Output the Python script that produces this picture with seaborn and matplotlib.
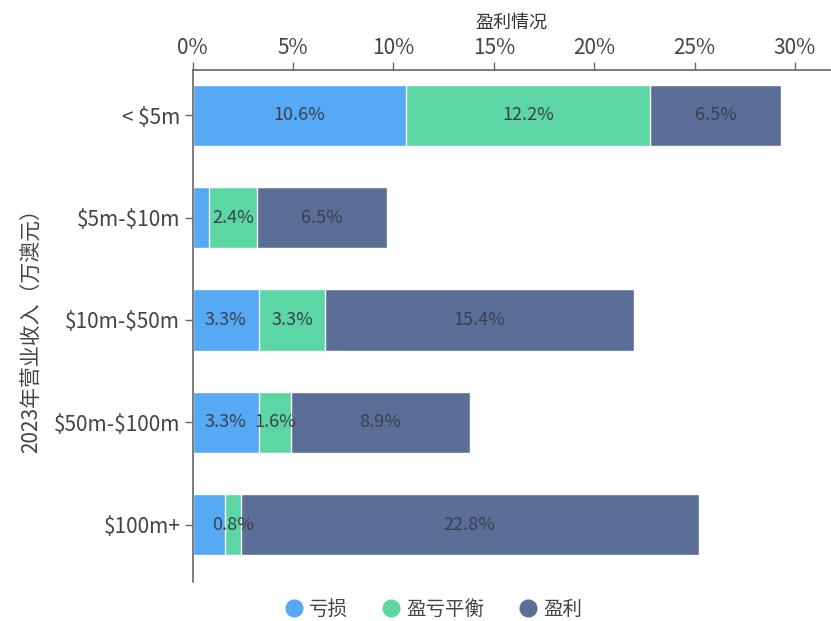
import matplotlib
matplotlib.use("Agg")
import matplotlib.pyplot as plt
import matplotlib.ticker as mticker
from matplotlib.lines import Line2D
import numpy as np
import pandas as pd
import seaborn as sns

# ── Data ──────────────────────────────────────────────────────────────────────
categories = ["< $5m", "$5m-$10m", "$10m-$50m", "$50m-$100m", "$100m+"]
series     = ["亏损", "盈亏平衡", "盈利"]
loss       = [10.6, 0.8, 3.3, 3.3, 1.6]
breakeven  = [12.2, 2.4, 3.3, 1.6, 0.8]
profit     = [6.5, 6.5, 15.4, 8.9, 22.8]
# segments whose label is not shown in the original (category, series)
hidden     = {("$5m-$10m", "亏损"), ("$100m+", "亏损")}
xticks     = [0, 5, 10, 15, 20, 25, 30]

COLORS = {"亏损": "#56A9F5", "盈亏平衡": "#5CD6A5", "盈利": "#5B6E98"}

# ── Style ─────────────────────────────────────────────────────────────────────
sns.set_theme(style="white")
plt.rcParams["font.family"] = ["Noto Sans CJK SC", "DejaVu Sans"]
plt.rcParams["text.parse_math"] = False

df = pd.DataFrame({"cat": categories, "亏损": loss,
                   "盈亏平衡": breakeven, "盈利": profit})
df["c1"] = df["亏损"]
df["c2"] = df["c1"] + df["盈亏平衡"]
df["c3"] = df["c2"] + df["盈利"]

fig, ax = plt.subplots(figsize=(8.31, 6.21), dpi=100)
fig.subplots_adjust(left=0.232, right=1.0, top=0.887, bottom=0.063)

# draw cumulative totals back to front so the segments stack
for col, name in [("c3", "盈利"), ("c2", "盈亏平衡"), ("c1", "亏损")]:
    sns.barplot(data=df, y="cat", x=col, orient="h", color=COLORS[name],
                width=0.6, saturation=1, ax=ax, order=categories)

# segment labels
for i, cat in enumerate(categories):
    start = 0
    for name in series:
        v = df.loc[i, name]
        if (cat, name) not in hidden:
            ax.text(start + v / 2, i, f"{v:.1f}%", ha="center", va="center",
                    fontsize=13, color="#3a3f4a")
        start += v

ax.set_xlim(0, 31.8)
ax.set_ylim(4.56, -0.44)
ax.xaxis.tick_top()
ax.xaxis.set_label_position("top")
ax.set_xticks(xticks)
ax.xaxis.set_major_formatter(mticker.FuncFormatter(lambda v, p: f"{v:.0f}%"))
ax.set_xlabel("盈利情况", fontsize=13, color="#333333", labelpad=7)
ax.set_ylabel("2023年营业收入（万澳元）", fontsize=15, color="#444444", labelpad=8)

for s in ["right", "bottom"]:
    ax.spines[s].set_visible(False)
for s in ["top", "left"]:
    ax.spines[s].set_color("#666666")
    ax.spines[s].set_linewidth(1.2)
ax.tick_params(axis="x", top=True, direction="out", length=6, width=1,
               color="#666666", labelsize=15, labelcolor="#444444", pad=2)
ax.tick_params(axis="y", left=True, direction="out", length=6, width=1,
               color="#666666", labelsize=15, labelcolor="#444444", pad=3)

handles = [Line2D([0], [0], marker="o", linestyle="", markersize=12,
                  markerfacecolor=COLORS[n], markeredgecolor=COLORS[n], label=n)
           for n in series]
fig.legend(handles=handles, loc="lower center", ncol=3, frameon=False,
           bbox_to_anchor=(0.52, -0.026), fontsize=14, handletextpad=0.2,
           handlelength=1.2, columnspacing=1.6, labelcolor="#444444")

fig.savefig("out.png", dpi=100)
